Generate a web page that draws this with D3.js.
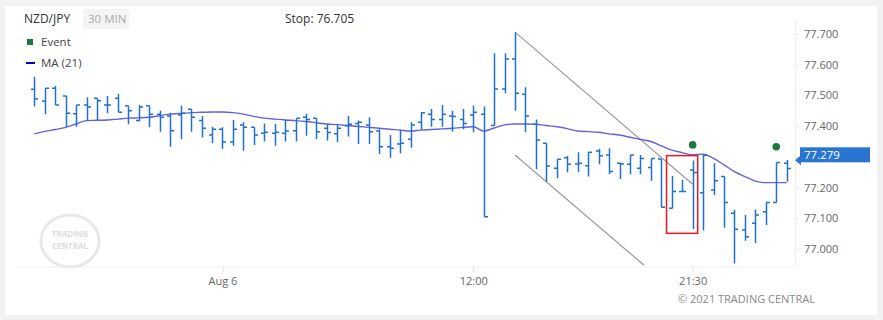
<!DOCTYPE html>
<html><head><meta charset="utf-8">
<script src="https://cdn.jsdelivr.net/npm/d3@7"></script>
<style>
html,body{margin:0;padding:0;background:#f2f2f2;}
svg{display:block;font-family:"Open Sans",sans-serif;}
</style></head>
<body><svg id="c" width="883" height="320"></svg>
<script>
// ---- data ----
const symbol = "NZD/JPY";
const period = "30 MIN";
const stopText = "Stop: 76.705";
const opens = [77.520,77.482,77.523,77.498,77.440,77.469,77.491,77.469,77.491,77.466,
77.418,77.466,77.439,77.433,77.436,77.455,77.418,77.371,77.390,77.348,
77.404,77.396,77.377,77.377,77.377,77.385,77.429,77.426,77.393,77.375,
77.401,77.409,77.404,77.384,77.333,77.342,77.357,77.413,77.439,77.422,
77.433,77.422,77.436,77.439,77.402,77.521,77.619,77.504,77.406,77.344,
77.263,77.297,77.277,77.271,77.319,77.306,77.279,77.276,77.263,77.265,
77.293,77.133,77.187,77.257,77.183,77.192,77.236,77.116,77.062,77.084,
77.121,77.151,77.279];
const highs = [77.561,77.523,77.531,77.498,77.469,77.494,77.491,77.498,77.505,77.466,
77.469,77.466,77.450,77.444,77.466,77.455,77.433,77.398,77.396,77.420,
77.413,77.396,77.409,77.407,77.422,77.426,77.440,77.426,77.407,77.407,
77.433,77.418,77.429,77.390,77.371,77.388,77.413,77.445,77.456,77.469,
77.450,77.456,77.467,77.464,77.637,77.637,77.706,77.527,77.422,77.344,
77.292,77.303,77.315,77.317,77.326,77.328,77.282,77.306,77.306,77.295,
77.293,77.238,77.225,77.288,77.309,77.279,77.236,77.127,77.111,77.129,
77.154,77.282,77.290];
const lows = [77.464,77.439,77.469,77.398,77.398,77.418,77.420,77.442,77.445,77.406,
77.415,77.396,77.382,77.333,77.357,77.382,77.363,77.344,77.326,77.336,
77.320,77.339,77.350,77.336,77.350,77.350,77.369,77.358,77.353,77.348,
77.366,77.342,77.342,77.309,77.297,77.312,77.330,77.388,77.398,77.398,
77.382,77.390,77.380,77.105,77.402,77.507,77.450,77.380,77.260,77.219,
77.230,77.250,77.250,77.236,77.276,77.244,77.228,77.243,77.243,77.222,
77.136,77.133,77.187,77.065,77.060,77.176,77.069,76.953,77.027,77.019,
77.078,77.151,77.219];
const closes = [77.488,77.523,77.469,77.442,77.469,77.462,77.483,77.469,77.445,77.450,
77.462,77.439,77.429,77.385,77.442,77.429,77.393,77.390,77.348,77.390,
77.396,77.371,77.380,77.380,77.384,77.426,77.422,77.382,77.379,77.393,
77.406,77.413,77.382,77.333,77.328,77.344,77.404,77.444,77.422,77.439,
77.431,77.409,77.445,77.105,77.521,77.619,77.507,77.433,77.355,77.270,
77.292,77.276,77.279,77.315,77.304,77.252,77.277,77.306,77.295,77.295,
77.136,77.187,77.187,77.249,77.305,77.222,77.151,77.064,77.040,77.111,
77.151,77.282,77.262];
const ma21 = [77.375,77.383,77.389,77.396,77.407,77.418,77.419,77.420,77.423,77.426,
77.427,77.429,77.434,77.439,77.441,77.444,77.445,77.446,77.446,77.444,
77.439,77.432,77.426,77.423,77.420,77.418,77.415,77.411,77.407,77.405,
77.402,77.399,77.396,77.393,77.390,77.387,77.384,77.387,77.389,77.391,
77.393,77.396,77.398,77.384,77.394,77.404,77.407,77.407,77.406,77.402,
77.398,77.392,77.384,77.382,77.380,77.375,77.371,77.364,77.357,77.350,
77.336,77.322,77.314,77.306,77.309,77.295,77.274,77.252,77.236,77.221,
77.216,77.216,77.216];
const eventBars = [63, 71];
const eventPrices = [77.339, 77.333];
const priceTicks = [77.0,77.1,77.2,77.3,77.4,77.5,77.6,77.7];
const timeTickIdx = [18, 42, 63];
const timeTickLabels = ["Aug 6","12:00","21:30"];
const lastPrice = 77.279;
// trend channel: [barIndex, price]
const upperLine = [[46, 77.706],[63, 77.211]];
const lowerLine = [[46, 77.306],[58.35, 76.947]];
// highlight box: bar range and price range
const boxBars = [60.5, 63.48];
const boxPrices = [77.051, 77.304];

// ---- drawing ----
const svg = d3.select("#c");
svg.append("rect").attr("x",5).attr("y",6).attr("width",872).attr("height",309)
  .attr("fill","#fff");

const x = d3.scaleLinear().domain([0, opens.length-1]).range([34.3, 786.7]);
const y = d3.scaleLinear().domain([77.0, 77.7]).range([249, 34]);

svg.append("clipPath").attr("id","plot").append("rect")
  .attr("x",16).attr("y",20).attr("width",779).attr("height",247);

// watermark
const wm = svg.append("g");
wm.append("ellipse").attr("cx",70).attr("cy",241).attr("rx",29).attr("ry",26)
  .attr("fill","none").attr("stroke","#e8e8e8").attr("stroke-width",3);
wm.append("text").attr("x",70).attr("y",237).attr("text-anchor","middle")
  .attr("font-size",8).attr("fill","#dcdcdc").attr("font-weight","bold").text("TRADING");
wm.append("text").attr("x",70).attr("y",249).attr("text-anchor","middle")
  .attr("font-size",8).attr("fill","#dcdcdc").attr("font-weight","bold").text("CENTRAL");

// header
svg.append("text").attr("x",24).attr("y",23).attr("font-size",12).attr("fill","#333").text(symbol);
svg.append("rect").attr("x",83).attr("y",9).attr("width",46).attr("height",20).attr("rx",3).attr("fill","#f4f4f4");
svg.append("text").attr("x",88).attr("y",23).attr("font-size",11.5).attr("fill","#aaa").text(period);
svg.append("text").attr("x",285).attr("y",23).attr("font-size",12).attr("fill","#333").text(stopText);

// legend
svg.append("rect").attr("x",27).attr("y",39).attr("width",6).attr("height",6).attr("fill","#1a7a3c");
svg.append("text").attr("x",41).attr("y",46).attr("font-size",11.5).attr("fill","#444").text("Event");
svg.append("line").attr("x1",26).attr("x2",35).attr("y1",63).attr("y2",63).attr("stroke","#0000cc").attr("stroke-width",2);
svg.append("text").attr("x",41).attr("y",67).attr("font-size",11.5).attr("fill","#444").text("MA (21)");

// x axis
svg.append("line").attr("x1",16).attr("x2",794).attr("y1",267).attr("y2",267).attr("stroke","#eeeeee");
const xa = svg.append("g").attr("transform","translate(0,267)")
  .call(d3.axisBottom(x).tickValues(timeTickIdx).tickFormat((d,i)=>timeTickLabels[i]).tickSize(5).tickPadding(5));
xa.select(".domain").remove();
xa.selectAll("line").attr("stroke","#dddddd");
xa.selectAll("text").attr("font-size",11).attr("fill","#666").attr("font-family","Open Sans");

// y axis
const ya = svg.append("g").attr("transform","translate(795,0)")
  .call(d3.axisRight(y).tickValues(priceTicks).tickFormat(d3.format(".3f")).tickSize(4).tickPadding(5));
ya.select(".domain").attr("stroke","#eeeeee").attr("d","M0.5,20V267");
ya.selectAll("line").attr("stroke","#e6e6e6");
ya.selectAll("text").attr("font-size",11).attr("fill","#666").attr("font-family","Open Sans");

const plot = svg.append("g").attr("clip-path","url(#plot)");

// trend lines
const lineGen = d3.line().x(d=>x(d[0])).y(d=>y(d[1]));
[upperLine, lowerLine].forEach(l=>{
  plot.append("path").attr("d",lineGen(l)).attr("fill","none").attr("stroke","#999").attr("stroke-width",1.2);
});

// MA line
plot.append("path").datum(ma21)
  .attr("d", d3.line().curve(d3.curveMonotoneX).x((d,i)=>x(i)).y(d=>y(d)))
  .attr("fill","none").attr("stroke","#4545dd").attr("stroke-opacity",0.85).attr("stroke-width",1.4);

// OHLC bars
const bar = plot.append("g").attr("stroke","#1f6fd4").attr("stroke-width",1.5);
opens.forEach((o,i)=>{
  const cx = Math.round(x(i)) + 0.5;
  bar.append("path").attr("fill","none")
    .attr("d",`M${cx},${y(highs[i])}V${y(lows[i])}M${cx-3.5},${y(o)}H${cx}M${cx},${y(closes[i])}H${cx+3.5}`);
});

// highlight box
plot.append("rect")
  .attr("x", x(boxBars[0])).attr("y", y(boxPrices[1]))
  .attr("width", x(boxBars[1]) - x(boxBars[0])).attr("height", y(boxPrices[0]) - y(boxPrices[1]))
  .attr("fill","none").attr("stroke","#e8191b").attr("stroke-width",1.5);

// events
eventBars.forEach((b,i)=>{
  plot.append("circle").attr("cx",x(b)).attr("cy",y(eventPrices[i])).attr("r",3.8).attr("fill","#1a7a3c");
});

// last price label
const ly = y(lastPrice);
svg.append("path").attr("d",`M795,${ly-3}L801,${ly-8}L801,${ly+2}Z`).attr("fill","#2a74d2");
svg.append("rect").attr("x",800).attr("y",ly-16).attr("width",70).attr("height",15).attr("fill","#2a74d2");
svg.append("text").attr("x",804).attr("y",ly-4.5).attr("font-size",11.5).attr("fill","#fff").text(lastPrice.toFixed(3));

// copyright
svg.append("text").attr("x",678).attr("y",303).attr("font-size",11).attr("fill","#888").text("© 2021 TRADING CENTRAL");
</script></body></html>
